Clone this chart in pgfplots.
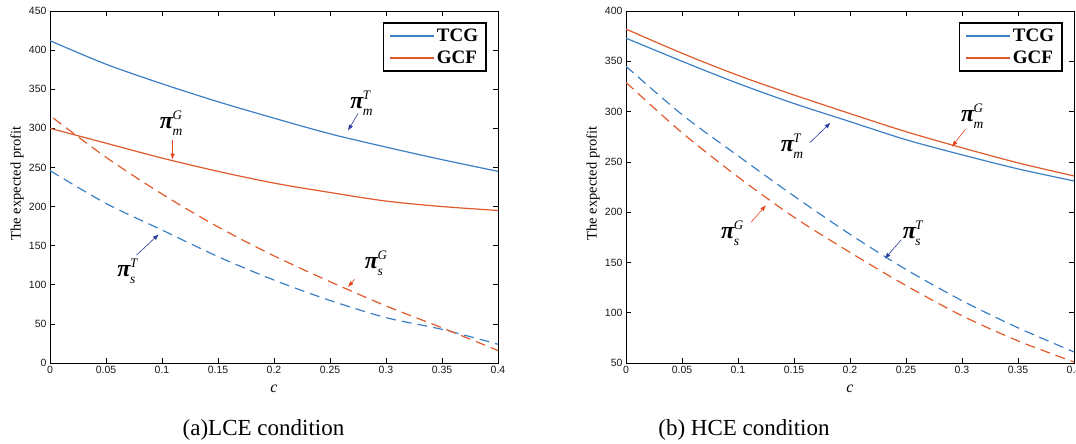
\documentclass[border=0pt]{standalone}
\usepackage{pgfplots}
\pgfplotsset{compat=1.18}
\usepackage{fontspec}
\setmainfont{Liberation Serif}
\newfontfamily\tickfont{Liberation Sans}
\usetikzlibrary{arrows.meta}
\definecolor{tcg}{HTML}{3B7FC4}
\definecolor{gcf}{HTML}{E05A2B}
\definecolor{arrB}{HTML}{2A3A9E}
\definecolor{arrR}{HTML}{E8441C}

% pi label: bold italic pi with superscript and subscript
\newcommand\pilab[2]{{\fontsize{24}{24}\selectfont\bfseries\itshape π}\kern-0.5pt%
  \makebox[0pt][l]{\raisebox{9pt}{\fontsize{13}{13}\selectfont\itshape #1}}%
  \raisebox{-7pt}{\fontsize{13.5}{13.5}\selectfont\itshape #2}}

\tikzset{
  dsh/.style={dash pattern=on 10pt off 6pt},
  arb/.style={-{Latex[length=6pt,width=4.5pt]}, arrB, line width=0.6pt},
  arr/.style={-{Latex[length=6pt,width=4.5pt]}, arrR, line width=0.6pt},
}

\pgfplotsset{
  panel/.style={
    scale only axis,
    width=448pt, height=352pt,
    anchor=south west,
    xmin=0, xmax=0.4,
    xtick={0,0.05,0.1,0.15,0.2,0.25,0.3,0.35,0.4},
    xticklabels={0,0.05,0.1,0.15,0.2,0.25,0.3,0.35,0.4},
    tick align=inside,
    tick pos=both,
    major tick length=5pt,
    axis line style={black, line width=0.8pt},
    tick style={black, line width=0.7pt},
    tick label style={font=\tickfont\fontsize{10.5}{11}\selectfont, text=black!90},
    /pgf/number format/assume math mode=true,
    xlabel={\itshape c},
    xlabel style={font=\fontsize{16}{16}\selectfont, at={(axis description cs:0.5,0)}, anchor=center, yshift=-26pt},
    ylabel={The expected profit},
    ylabel style={font=\fontsize{14.5}{15}\selectfont, at={(axis description cs:-0.0737,0.51)}, anchor=center},
    legend cell align=left,
    legend style={at={(rel axis cs:1,1)}, anchor=north east, xshift=-11pt, yshift=-11pt,
      draw=black, line width=1.8pt, font=\fontsize{19}{20}\selectfont\bfseries,
      inner xsep=6pt, inner ysep=4pt, row sep=4pt},
    legend image code/.code={\draw[#1, line width=1.4pt] (0pt,0pt) -- (44pt,0pt);},
    every axis plot/.append style={line width=1.2pt, smooth},
  },
}

\begin{document}
\begin{tikzpicture}
\path[use as bounding box] (0,0) rectangle (1076pt,444pt);

% ---------- (a) LCE ----------
\begin{axis}[panel, at={(50pt,81pt)}, ymin=0, ymax=450, ytick={0,50,...,450}]
\addplot[tcg] coordinates {(0,412) (0.05,382) (0.1,357) (0.15,334) (0.2,313) (0.25,293) (0.3,276) (0.35,260) (0.4,245)};
\addlegendentry{TCG}
\addplot[gcf] coordinates {(0,300) (0.05,281) (0.1,262) (0.15,245) (0.2,230) (0.25,218) (0.3,207) (0.35,200) (0.4,195)};
\addlegendentry{GCF}
\addplot[tcg, dsh, forget plot] coordinates {(0,246) (0.05,204) (0.1,170) (0.15,136) (0.2,106) (0.25,80) (0.3,58) (0.35,43) (0.4,24)};
\addplot[gcf, dsh, forget plot] coordinates {(0.003,313) (0.05,263) (0.1,216) (0.15,174) (0.2,137) (0.25,104) (0.3,73) (0.35,45) (0.4,16)};

\node[anchor=base west, inner sep=0pt] at (axis cs:0.268,325.4) {\pilab{T}{m}};
\draw[arb] (axis cs:0.275,319) -- (axis cs:0.266,297);
\node[anchor=base west, inner sep=0pt] at (axis cs:0.098,299.9) {\pilab{G}{m}};
\draw[arr] (axis cs:0.1094,285) -- (axis cs:0.1094,260);
\node[anchor=base west, inner sep=0pt] at (axis cs:0.060,110.6) {\pilab{T}{s}};
\draw[arb] (axis cs:0.0773,138) -- (axis cs:0.0972,164.6);
\node[anchor=base west, inner sep=0pt] at (axis cs:0.281,121.2) {\pilab{G}{s}};
\draw[arr] (axis cs:0.272,107) -- (axis cs:0.266,97);
\end{axis}

% ---------- (b) HCE ----------
\begin{axis}[panel, at={(626pt,81pt)}, ymin=50, ymax=400, ytick={50,100,...,400}]
\addplot[tcg] coordinates {(0,373) (0.05,350) (0.1,328) (0.15,308) (0.2,290) (0.25,272) (0.3,257) (0.35,243) (0.4,231)};
\addlegendentry{TCG}
\addplot[gcf] coordinates {(0,382) (0.05,358) (0.1,336) (0.15,316.5) (0.2,298) (0.25,280) (0.3,264) (0.35,249) (0.4,236)};
\addlegendentry{GCF}
\addplot[tcg, dsh, forget plot] coordinates {(0,345) (0.05,297) (0.1,256) (0.15,216) (0.2,178) (0.25,143) (0.3,112) (0.35,85) (0.4,61)};
\addplot[gcf, dsh, forget plot] coordinates {(0,329) (0.05,279) (0.1,235) (0.15,195) (0.2,160) (0.25,127) (0.3,97) (0.35,72) (0.4,51)};

\node[anchor=base west, inner sep=0pt] at (axis cs:0.138,260.3) {\pilab{T}{m}};
\draw[arb] (axis cs:0.1641,269) -- (axis cs:0.1826,289);
\node[anchor=base west, inner sep=0pt] at (axis cs:0.299,290) {\pilab{G}{m}};
\draw[arr] (axis cs:0.303,282.5) -- (axis cs:0.291,265);
\node[anchor=base west, inner sep=0pt] at (axis cs:0.0848,174.2) {\pilab{G}{s}};
\draw[arr] (axis cs:0.1117,190) -- (axis cs:0.125,207);
\node[anchor=base west, inner sep=0pt] at (axis cs:0.247,174.2) {\pilab{T}{s}};
\draw[arb] (axis cs:0.2457,172.5) -- (axis cs:0.2311,153.6);
\end{axis}

% captions
\node[anchor=base, font=\fontsize{23}{23}\selectfont] at (263.5pt,8pt) {(a)LCE condition};
\node[anchor=base, font=\fontsize{23}{23}\selectfont] at (744pt,8pt) {(b) HCE condition};
\end{tikzpicture}
\end{document}
